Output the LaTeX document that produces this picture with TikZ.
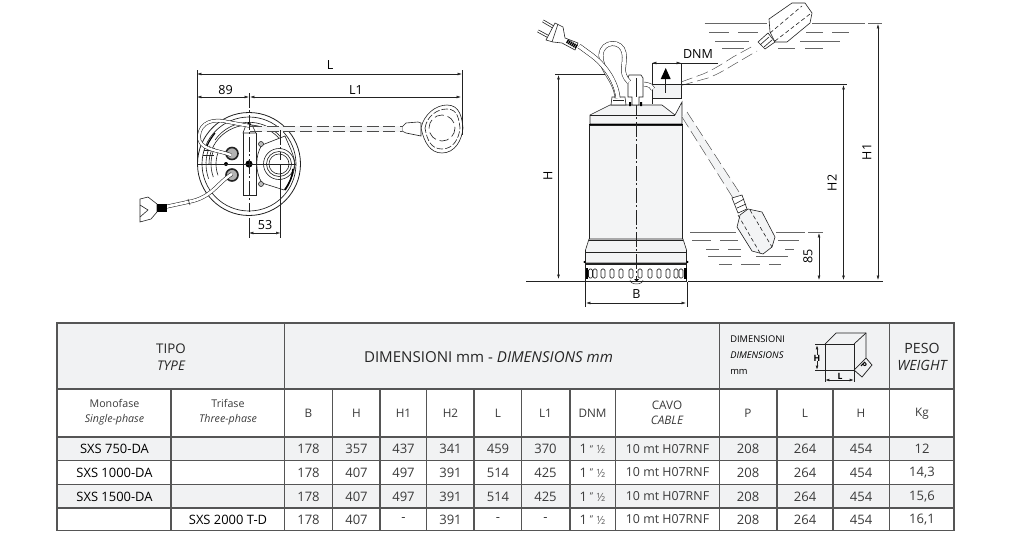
\documentclass[tikz,border=0pt]{standalone}
\usepackage{fontspec}
\setmainfont{Open Sans}
\usetikzlibrary{arrows.meta}
\definecolor{hd}{HTML}{F1F2F3}
\definecolor{ink}{HTML}{222222}
\definecolor{txt}{HTML}{3A3A3A}
\definecolor{grid}{HTML}{555555}
\definecolor{body}{HTML}{F3F4F5}
\tikzset{
 dimline/.style={draw=ink,line width=.35pt,{Latex[length=3.2pt,width=2pt]}-{Latex[length=3.2pt,width=2pt]}},
 thin line/.style={draw=ink,line width=.3pt},
 part/.style={draw=ink,line width=.45pt},
 heavy/.style={draw=black,line width=1.2pt},
 axis/.style={draw=ink,line width=.4pt,dash pattern=on 11pt off 2pt on 1.5pt off 2pt},
 cablep/.style={draw=black!70,line width=.35pt,dash pattern=on 9pt off 3.5pt},
 water/.style={draw=black!60,line width=.5pt},
 lab/.style={inner sep=0pt,text=black,font=\fontsize{9.4}{10}\selectfont},
 cell/.style={inner sep=0pt,text=txt,font=\fontsize{8.8}{11.5}\selectfont,align=center},
 val/.style={inner sep=0pt,text=txt,font=\fontsize{9.8}{11}\selectfont,align=center},
 lite/.style={inner sep=0pt,text=txt,font=\fontsize{8}{11}\selectfont,align=center},
 model/.style={inner sep=0pt,text=black,font=\fontsize{9.7}{11}\selectfont},
 grid line/.style={draw=grid,line width=.8pt},
 head/.style={inner sep=0pt,text=black!85,align=center},
}
\begin{document}
\begin{tikzpicture}[x=0.75pt,y=-0.75pt]
\useasboundingbox (0,0) rectangle (1013,532);
%% ---------- top view
\coordinate (tc) at (249,164);
\draw[part,line width=.6pt,fill=white] (tc) circle (51.5);
\draw[part,line width=.5pt] (tc) circle (47);
\draw[part] (tc) ++(-40,0) arc (180:360:40 and 39);
\draw[part] (215,140) arc (215:320:41.5);
% central block
\draw[part] (243,133) -- (243,195) -- (256,195) -- (256,133);
\draw[part,fill=white] (243,133) -- (246,125) -- (252,125) -- (256,133) -- cycle;
\fill[black] (247,125) -- (251,125) -- (250,122) -- (248,122) -- cycle;
% discharge
\draw[part,fill=white] (262,145) -- (285,136) .. controls (290,148) and (294,155) .. (295,164) .. controls (294,175) and (290,182) .. (284,190) -- (262,183) .. controls (255,172) and (255,155) .. (262,145);
\draw[part] (279,164) circle (15.5);
\draw[part] (279,164) circle (12.5);
\draw[part] (279,164) circle (10);
\draw[heavy] (293,169) .. controls (292,178) and (289,184) .. (285,190);
\draw[heavy,line width=.9pt] (215,133) .. controls (212,137) and (209,141) .. (207,146);
% bolts, cable glands
\draw[part,fill=black!25] (261,144) circle (2.5);
\draw[part,fill=black!25] (261,184) circle (2.5);
\fill[black] (249,164) circle (3.6);
\fill[black] (226,164) circle (2);
\draw[part,line width=1.2pt,fill=black!30] (232,153.5) circle (6);
\draw[part,line width=1.2pt,fill=black!30] (232,175) circle (6);
\foreach \rr in {33,38,43}
 \draw[part] (tc) ++(160:\rr) arc (160:205:\rr);
\draw[part] (204,150) -- (214,150) (203,155) -- (214,155);
% cables
\draw[draw=ink,line width=2.6pt] (231,155) .. controls (218,150) and (198,150) .. (199,136) .. controls (200,122) and (214,118) .. (228,122) -- (250,126);
\draw[draw=white,line width=1.8pt] (231,155) .. controls (218,150) and (198,150) .. (199,136) .. controls (200,122) and (214,118) .. (228,122) -- (250,126);
\draw[draw=ink,line width=2.8pt] (232,174) .. controls (218,182) and (212,198) .. (188,202) -- (165,207);
\draw[draw=white,line width=2pt] (232,174) .. controls (218,182) and (212,198) .. (188,202) -- (165,207);
\draw[part] (188,199) -- (190,205);
% plug top view
\draw[part,fill=white] (140,199) -- (148,197) -- (157,204) -- (157,212) -- (151,219) -- (140,222) -- cycle;
\draw[part] (140,205) -- (148,210) -- (140,217);
\fill[black] (157,204) rectangle (167,212);
% float top view
\draw[part,fill=white] (421,128) .. controls (424,114) and (436,105) .. (447,105) .. controls (460,105) and (462,118) .. (463,128) .. controls (462,140) and (455,153) .. (442,153) .. controls (430,153) and (424,142) .. (421,128);
\draw[part,dash pattern=on 5pt off 1.5pt] (425,128) .. controls (427,116) and (437,109) .. (447,109) .. controls (458,109) and (459,120) .. (460,128) .. controls (459,139) and (453,149) .. (442,149) .. controls (431,149) and (427,140) .. (425,128);
\draw[part,dash pattern=on 7pt off 3pt] (442,128) circle (13);
\draw[part,fill=white] (402,127) -- (406,123) -- (418,122) -- (421,123) -- (421,136) -- (406,133) -- (402,131) -- cycle;
\draw[draw=none,fill=body] (257,126) rectangle (402,131.5);
\draw[cablep] (250,126) -- (402,126);
\draw[cablep] (250,131.5) -- (402,131.5);
% centre lines
\draw[axis] (249,93) -- (249,212);
\draw[thin line] (197,164) -- (296,164);
\draw[axis] (280,130) -- (280,160);
% dimensions
\coordinate (la) at (197,74);
\coordinate (lb) at (462,74);
\draw[thin line] (197,70) -- (197,165);
\draw[thin line] (462,70) -- (462,135);
\draw[dimline] (la) -- (lb);
\node[lab] (tL) at (330,65) {L};
\draw[dimline] (197,97) -- (249,97);
\draw[dimline] (250,97) -- (461,97);
\node[lab] (t89) at (225.5,90) {89};
\node[lab] (tL1) at (356,90) {L1};
\draw[thin line] (249,218) -- (249,238);
\draw[thin line] (280.5,165) -- (280.5,238);
\draw[dimline] (249,233) -- (280.5,233);
\node[lab] (t53) at (265,225.5) {53};
%% ---------- side view: water
\draw[water] (704.5,23) -- (767,23);
\draw[water] (812,23) -- (865,23) (868,23) -- (882,23);
\draw[water] (709,32) -- (729,32) (738,32) -- (758,32) (806,32) -- (823,32) (832,32) -- (849,32);
\draw[water] (715,41) -- (749,41) (800,41) -- (840,41);
\draw[water] (722,48) -- (744,48) (778,48) -- (795,48) (805,48) -- (823,48);
\draw[water] (690,232) -- (736,232) (776,232) -- (805,232) (808,232) -- (823,232);
\draw[water] (692,240) -- (711,240) (720,240) -- (738,240) (778,240) -- (799,240);
\draw[water] (706,249) -- (719,249) (728,249) -- (741,249) (785,249) -- (794,249);
\draw[water] (708,256.5) -- (741,256.5) (756,256.5) -- (788,256.5);
\draw[water] (719,264) -- (732,264) (741,264) -- (760,264) (769,264) -- (781,264);
%% body
\draw[part,line width=.6pt,fill=body] (589,125) rectangle (682.5,239);
\draw[part,fill=body] (590,124) -- (590,115) -- (610,105) -- (662,105) -- (675,115) -- (682,102) -- (682,124) -- cycle;
\draw[part] (590,115) -- (675,115);
\draw[heavy] (589,124.5) -- (682.5,124.5);
\draw[part,fill=body] (589,239) -- (585.5,250) -- (585.5,263) -- (686.5,263) -- (686.5,250) -- (683,239) -- cycle;
\draw[part] (589,240.5) -- (683,240.5);
\draw[part] (585.5,252) -- (686.5,252);
\draw[part,fill=white] (585.5,263) rectangle (686.5,281);
\draw[part] (585.5,264.5) -- (686.5,264.5);
\fill[black] (584.5,262) circle (1.1) (687.5,262) circle (1.1);
\fill[black] (585.5,268) rectangle (588,279);
\fill[black] (684,268) rectangle (687,279);
\foreach \xx in {590.5,595,603,612,621,631,640,650,659,668,676,681}
 \draw[part,line width=.45pt,rounded corners=1pt] (\xx-2,269) rectangle (\xx+2,278);
\draw[part,line width=.35pt] (630,280) arc (180:360:6.5 and -4);
\fill[black] (634,279) -- (639,279) -- (636.5,281.5) -- cycle;
% centre line side
\draw[axis] (636.5,100) -- (636.5,280);
% box and DNM
\draw[part,fill=body] (652,84) rectangle (681,98);
\draw[part,fill=white] (652,63) rectangle (681,84);
\fill[black] (665.7,68) -- (670.7,79) -- (660.7,79) -- cycle;
\draw[part] (665.7,79) -- (665.7,93);
\draw[part] (652,98) -- (652,104);
\draw[part] (681,63) -- (718,63);
\draw[dimline] (652,63) -- (681,63);
\node[lab] (tDNM) at (698,54) {DNM};
% junction and fitting
\draw[part,fill=white] (612,97) -- (625,97) -- (626,105) -- (611,105) -- cycle;
\draw[part] (613,100) -- (624,100);
\draw[part,fill=white] (629,75) -- (641,75) -- (643,78) -- (643,97) -- (639,97) -- (639,105) -- (632,105) -- (632,97) -- (628,97) -- (628,78) -- cycle;
\fill[black] (629,102) rectangle (631,106) (640,102) rectangle (642,106);
\draw[part] (636,78) -- (636,97);
% loop cable
\draw[draw=ink,line width=3.6pt] (617,98) .. controls (616,80) and (600,70) .. (601,55) .. controls (602,40) and (622,40) .. (624,53) .. controls (626,65) and (619,72) .. (629,82);
\draw[draw=white,line width=2.8pt] (617,98) .. controls (616,80) and (600,70) .. (601,55) .. controls (602,40) and (622,40) .. (624,53) .. controls (626,65) and (619,72) .. (629,82);
\draw[draw=ink,line width=3.4pt] (644,84) .. controls (650,85) and (652,86) .. (653,89);
\draw[draw=white,line width=2.6pt] (644,84) .. controls (650,85) and (652,86) .. (653,89);
\draw[draw=ink,line width=3.6pt] (579,46) -- (590,54) .. controls (604,64) and (616,80) .. (618,98);
\draw[draw=white,line width=2.8pt] (579,46) -- (590,54) .. controls (604,64) and (616,80) .. (618,98);
% plug side
\draw[part,line width=2.2pt] (543,21) -- (555,28);
\draw[part,line width=2.2pt] (538,31) -- (549,37);
\draw[draw=white,line width=1.1pt] (543,21) -- (555,28) (538,31) -- (549,37);
\draw[part,fill=white] (555,23) -- (563,27) -- (565,38) -- (578,43) -- (575,50) -- (562,43) -- (553,42) -- (546,40) -- cycle;
\draw[draw=black,line width=3pt,dash pattern=on 1pt off .5pt] (567,41) -- (577,47);
\draw[part] (558,24) -- (552,42);
% H line
\draw[thin line] (555,74) -- (605,74);
\draw[thin line] (526,281) -- (585,281) (688,281) -- (883,281);
% cables to floats
\draw[cablep] (681,82) -- (703,74) .. controls (715,69) and (725,62) .. (733,57) -- (753,46);
\draw[cablep] (681,85.5) -- (708,78) .. controls (716,75) and (725,70) .. (733,65) -- (757,51);
\draw[thin line] (681,84) -- (847,84);
\draw[draw=none,fill=body] (682,117) -- (733,198) -- (741,195) -- (687,112) -- cycle;
\draw[cablep] (682,117) -- (733,198);
\draw[cablep] (687,112) -- (741,195);
% top float
\draw[part,fill=white] (769,19) -- (792,3) -- (805,3) -- (812,13) -- (810,23) -- (787,42) -- (775,42) -- (770,32) -- cycle;
\draw[part,fill=white] (758,42) -- (768,33) -- (775,42) -- (765,49) -- cycle;
\draw[part] (760,45) -- (769,37) (764,47) -- (772,40);
\draw[part,densely dashed] (770,33) -- (802,6);
\draw[part,densely dashed] (775,41) -- (810,14);
% bottom float
\draw[part,fill=body] (737,227) -- (740,215) -- (748,209) -- (762,212) -- (775,237) -- (772,247) -- (763,254) -- (752,251) -- cycle;
\draw[part,fill=white] (732,198) -- (742,195) -- (747,209) -- (738,213) -- cycle;
\draw[part] (735,204) -- (744,199) (737,208) -- (746,204);
\draw[part,densely dashed] (738,215) -- (760,253);
\draw[part,densely dashed] (750,210) -- (772,247);
% dimensions
\draw[dimline] (558.5,75) -- (558.5,279);
\node[lab,rotate=90] (tH) at (548,176) {H};
\draw[thin line] (585,282) -- (585,307);
\draw[thin line] (687,282) -- (687,307);
\draw[dimline] (586,303) -- (686,303);
\node[lab] (tB) at (636.5,294.5) {B};
\draw[dimline] (843.5,85) -- (843.5,280);
\node[lab,rotate=90] (tH2) at (832,183) {H2};
\draw[dimline] (878,24) -- (878,280);
\node[lab,rotate=90] (tH1) at (867,152) {H1};
\draw[dimline] (819,233) -- (819,280);
\node[lab,rotate=90] (t85) at (808,256) {85};
%% ---------- table
\fill[hd] (57,323) rectangle (954,389);
\fill[hd] (57,437) rectangle (954,460.5);
\fill[hd] (57,484.5) rectangle (954,508);
\foreach \yy in {389,437,460.5,484.5,508}
 \draw[grid line] (57,\yy) -- (954,\yy);
\draw[grid line] (57,323) rectangle (954,530.5);
\draw[grid line] (284.5,323) -- (284.5,530.5);
\draw[grid line] (719.5,323) -- (719.5,530.5);
\draw[grid line] (889.5,323) -- (889.5,530.5);
\foreach \xx in {171,332.5,380,426.5,474,521.5,570,615.5,777,833}
 \draw[grid line] (\xx,389) -- (\xx,530.5);
\node[head,font=\fontsize{10}{12.5}\selectfont] (tipo) at (171,357) {TIPO\\\itshape TYPE};
\node[head,font=\fontsize{11.3}{12.5}\selectfont] (dim) at (488.5,357) {DIMENSIONI mm - \textit{DIMENSIONS mm}};
\node[lite,align=left,font=\fontsize{7}{12}\selectfont,anchor=west,text=black] (dim2) at (730,355) {DIMENSIONI\\\textit{DIMENSIONS}\\mm};
\node[head,font=\fontsize{10.6}{12.5}\selectfont] (peso) at (922,357) {PESO\\\itshape WEIGHT};
% small cube
\draw[part,line width=.55pt] (825,344) rectangle (854,370);
\draw[part,line width=.55pt] (825,344) -- (836,333) -- (866,333) -- (866,358) -- (854,370);
\draw[part,line width=.55pt] (854,344) -- (866,333);
\draw[dimline,line width=.5pt] (817,345) -- (817,370);
\draw[part] (815,344) -- (825,344);
\draw[part] (815,370) -- (825,370);
\node[inner sep=0pt,font=\bfseries\fontsize{6.5}{8}\selectfont,fill=hd] (cH) at (817,358) {H};
\draw[dimline,line width=.5pt] (825,380) -- (854,380);
\draw[part] (825,370) -- (825,382) (854,370) -- (854,382);
\node[inner sep=0pt,font=\bfseries\fontsize{6.5}{8}\selectfont,anchor=south] (cL) at (840,379.5) {L};
\draw[part,line width=.55pt] (854,370) -- (862,377) -- (872,365) -- (866,358);
\node[inner sep=0pt,rotate=-45,font=\bfseries\fontsize{6}{8}\selectfont] (cP) at (864,365.5) {P};
% row 2
\node[lite] (m) at (114.5,412.5) {Monofase\\\textit{Single-phase}};
\node[lite] (tr) at (228,412.5) {Trifase\\\textit{Three-phase}};
\foreach \xx/\tt in {308.5/B,356.5/H,403.5/H1,450.5/H2,498/L,545.5/L1,592.5/DNM}
 \node[cell] at (\xx,413.5) {\tt};
\node[cell] (cavo) at (667,413) {CAVO\\\itshape CABLE};
\foreach \xx/\tt in {748/P,805/L,861/H,922/Kg}
 \node[cell] at (\xx,413.5) {\tt};
% names
\node[model] at (114.5,449) {SXS 750-DA};
\node[model] at (114.5,472.5) {SXS 1000-DA};
\node[model] at (114.5,496.5) {SXS 1500-DA};
\node[model] at (228,519.5) {SXS 2000 T-D};
% values
\foreach \yy/\a/\b/\c/\d/\e/\w in {449/357/437/341/459/370/{12},472.5/407/497/391/514/425/{14,3},496.5/407/497/391/514/425/{15,6},519.5/407/-/391/-/-/{16,1}}{
 \node[val] at (308.5,\yy) {178};
 \node[val] at (356.5,\yy) {\a};
 \node[val] at (403.5,\yy) {\b};
 \node[val] at (450.5,\yy) {\c};
 \node[val] at (498,\yy) {\d};
 \node[val] at (545.5,\yy) {\e};
 \node[val] at (592.5,\yy) {1\hspace{2.2pt}\raisebox{1pt}{\fontsize{7}{8}\selectfont ”}\hspace{2.6pt}{\fontsize{8.5}{9}\selectfont\color{black!60}½}};
 \node[val,font=\fontsize{9.3}{11}\selectfont] at (667.5,\yy) {10 mt H07RNF};
 \node[val] at (748,\yy) {208};
 \node[val] at (805,\yy) {264};
 \node[val] at (861,\yy) {454};
 \node[val] at (922,\yy) {\w};
}
\end{tikzpicture}
\end{document}
